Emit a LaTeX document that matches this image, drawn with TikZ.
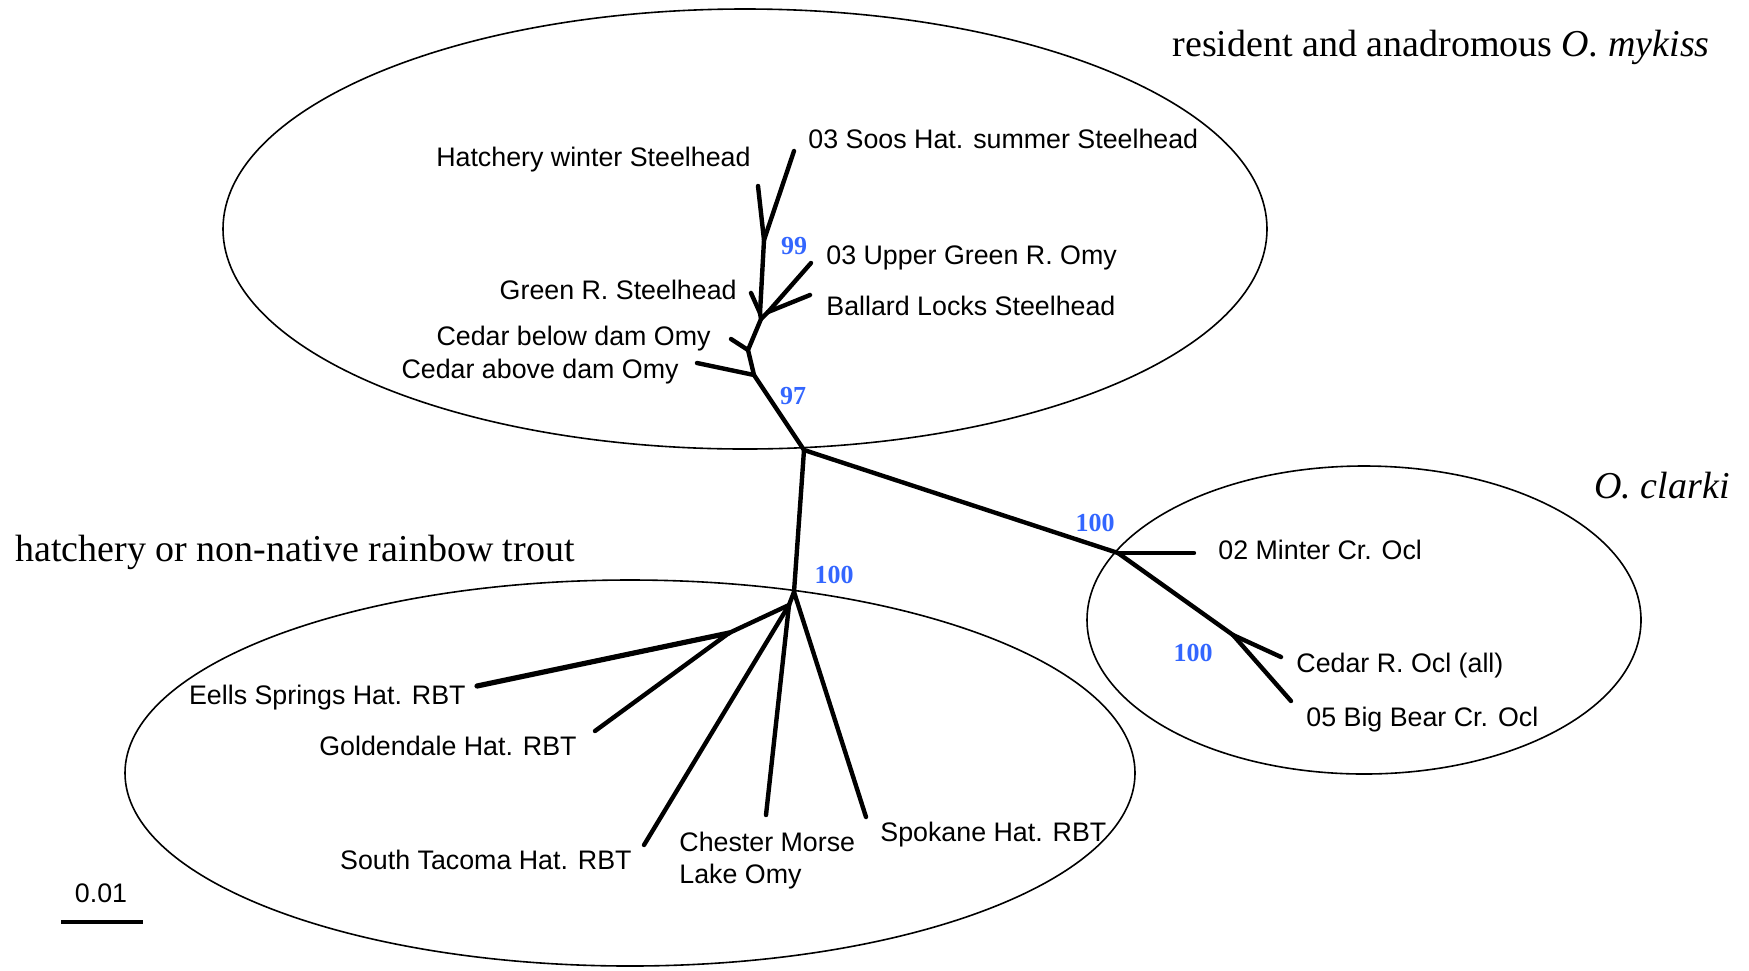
\documentclass[tikz,border=0pt]{standalone}
\usepackage{fontspec}
\setmainfont{Liberation Serif}
\setsansfont{Liberation Sans}
\definecolor{bootblue}{RGB}{51,102,255}
\begin{document}
\begin{tikzpicture}[x=0.5pt,y=-0.5pt,
  br/.style={line width=2.2pt,line cap=round,line join=round},
  grp/.style={line width=0.8pt},
  lab/.style={font=\sffamily\fontsize{13.4}{16}\selectfont,inner sep=0pt},
  boot/.style={font=\rmfamily\bfseries\fontsize{13}{15}\selectfont,text=bootblue,inner sep=0pt},
  ttl/.style={font=\rmfamily\fontsize{19}{22}\selectfont,inner sep=0pt}]
\useasboundingbox (0,0) rectangle (1749,970);
% group ellipses
\draw[grp] (745,229) ellipse [x radius=522, y radius=220];
\draw[grp] (630,773) ellipse [x radius=505, y radius=193];
\draw[grp] (1364,620) ellipse [x radius=277, y radius=154];
% nodes of the tree
\coordinate (root) at (804,450);
\coordinate (n97) at (754,375);
\coordinate (ncb) at (748,350);
\coordinate (n3) at (761,319);
\coordinate (nub) at (768,312);
\coordinate (ngr) at (760,313);
\coordinate (n99) at (764,240);
\coordinate (b0) at (794,592);
\coordinate (b1) at (789,605);
\coordinate (be) at (729,633);
\coordinate (c0) at (1118,553);
\coordinate (c1) at (1233,635);
% leaf ends
\coordinate (lhw) at (758,186);
\coordinate (lss) at (794,151);
\coordinate (lug) at (811,263);
\coordinate (lbl) at (810,295);
\coordinate (lgr) at (751,293);
\coordinate (lcb) at (731,339);
\coordinate (lca) at (697,363);
\coordinate (lee) at (477,686);
\coordinate (lgo) at (595,731);
\coordinate (lst) at (644,845);
\coordinate (lch) at (766,815);
\coordinate (lsp) at (866,817);
\coordinate (lmi) at (1194,553);
\coordinate (lce) at (1281,657);
\coordinate (lbb) at (1291,701);
% branches
\draw[br] (root) -- (n97) -- (ncb) -- (n3) -- (ngr) -- (n99);
\draw[br] (n99) -- (lhw);
\draw[br] (n99) -- (lss);
\draw[br] (ngr) -- (lgr);
\draw[br] (n3) -- (nub);
\draw[br] (nub) -- (lug);
\draw[br] (nub) -- (lbl);
\draw[br] (ncb) -- (lcb);
\draw[br] (n97) -- (lca);
\draw[br] (root) -- (b0);
\draw[br] (b0) -- (lsp);
\draw[br] (b0) -- (b1);
\draw[br] (b1) -- (lch);
\draw[br] (b1) -- (lst);
\draw[br] (b1) -- (be);
\draw[br,line width=2.6pt] (be) -- (lee);
\draw[br] (be) -- (lgo);
\draw[br] (root) -- (c0);
\draw[br] (c0) -- (lmi);
\draw[br] (c0) -- (c1);
\draw[br] (c1) -- (lce);
\draw[br] (c1) -- (lbb);
% leaf labels
\node[lab,anchor=east] (thw) at (751,160) {Hatchery winter Steelhead};
\node[lab,anchor=west] (tss) at (808,139) {03 Soos Hat. summer Steelhead};
\node[lab,anchor=west] (tug) at (826,258) {03 Upper Green R. Omy};
\node[lab,anchor=west] (tbl) at (826,306) {Ballard Locks Steelhead};
\node[lab,anchor=east] (tgr) at (737,290) {Green R. Steelhead};
\node[lab,anchor=east] (tcb) at (711,339) {Cedar below dam Omy};
\node[lab,anchor=east] (tca) at (679,372) {Cedar above dam Omy};
\node[lab,anchor=east] (tee) at (466,698) {Eells Springs Hat. RBT};
\node[lab,anchor=east] (tgo) at (577,746) {Goldendale Hat. RBT};
\node[lab,anchor=east] (tst) at (632,860) {South Tacoma Hat. RBT};
\node[lab,anchor=west,align=left] (tch) at (679,861) {Chester Morse\\Lake Omy};
\node[lab,anchor=west] (tsp) at (880,835) {Spokane Hat. RBT};
\node[lab,anchor=west] (tmi) at (1218,550) {02 Minter Cr. Ocl};
\node[lab,anchor=west] (tce) at (1296,666) {Cedar R. Ocl (all)};
\node[lab,anchor=west] (tbb) at (1306,720) {05 Big Bear Cr. Ocl};
% bootstrap values
\node[boot] (s99) at (794,246) {99};
\node[boot] (s97) at (793,396) {97};
\node[boot] (s100a) at (834,575) {100};
\node[boot] (s100b) at (1095,523) {100};
\node[boot] (s100c) at (1193,653) {100};
% group titles
\node[ttl,anchor=east] (tres) at (1710,47) {resident and anadromous \textit{O. mykiss}};
\node[ttl,anchor=east] (tcla) at (1730,486) {\textit{O. clarki}};
\node[ttl,anchor=west] (thna) at (15,552) {hatchery or non-native rainbow trout};
% scale bar
\coordinate (sb1) at (61,922);
\coordinate (sb2) at (143,922);
\draw[line width=2.3pt] (sb1) -- (sb2);
\node[lab] (tsb) at (101,893) {0.01};
\end{tikzpicture}
\end{document}
